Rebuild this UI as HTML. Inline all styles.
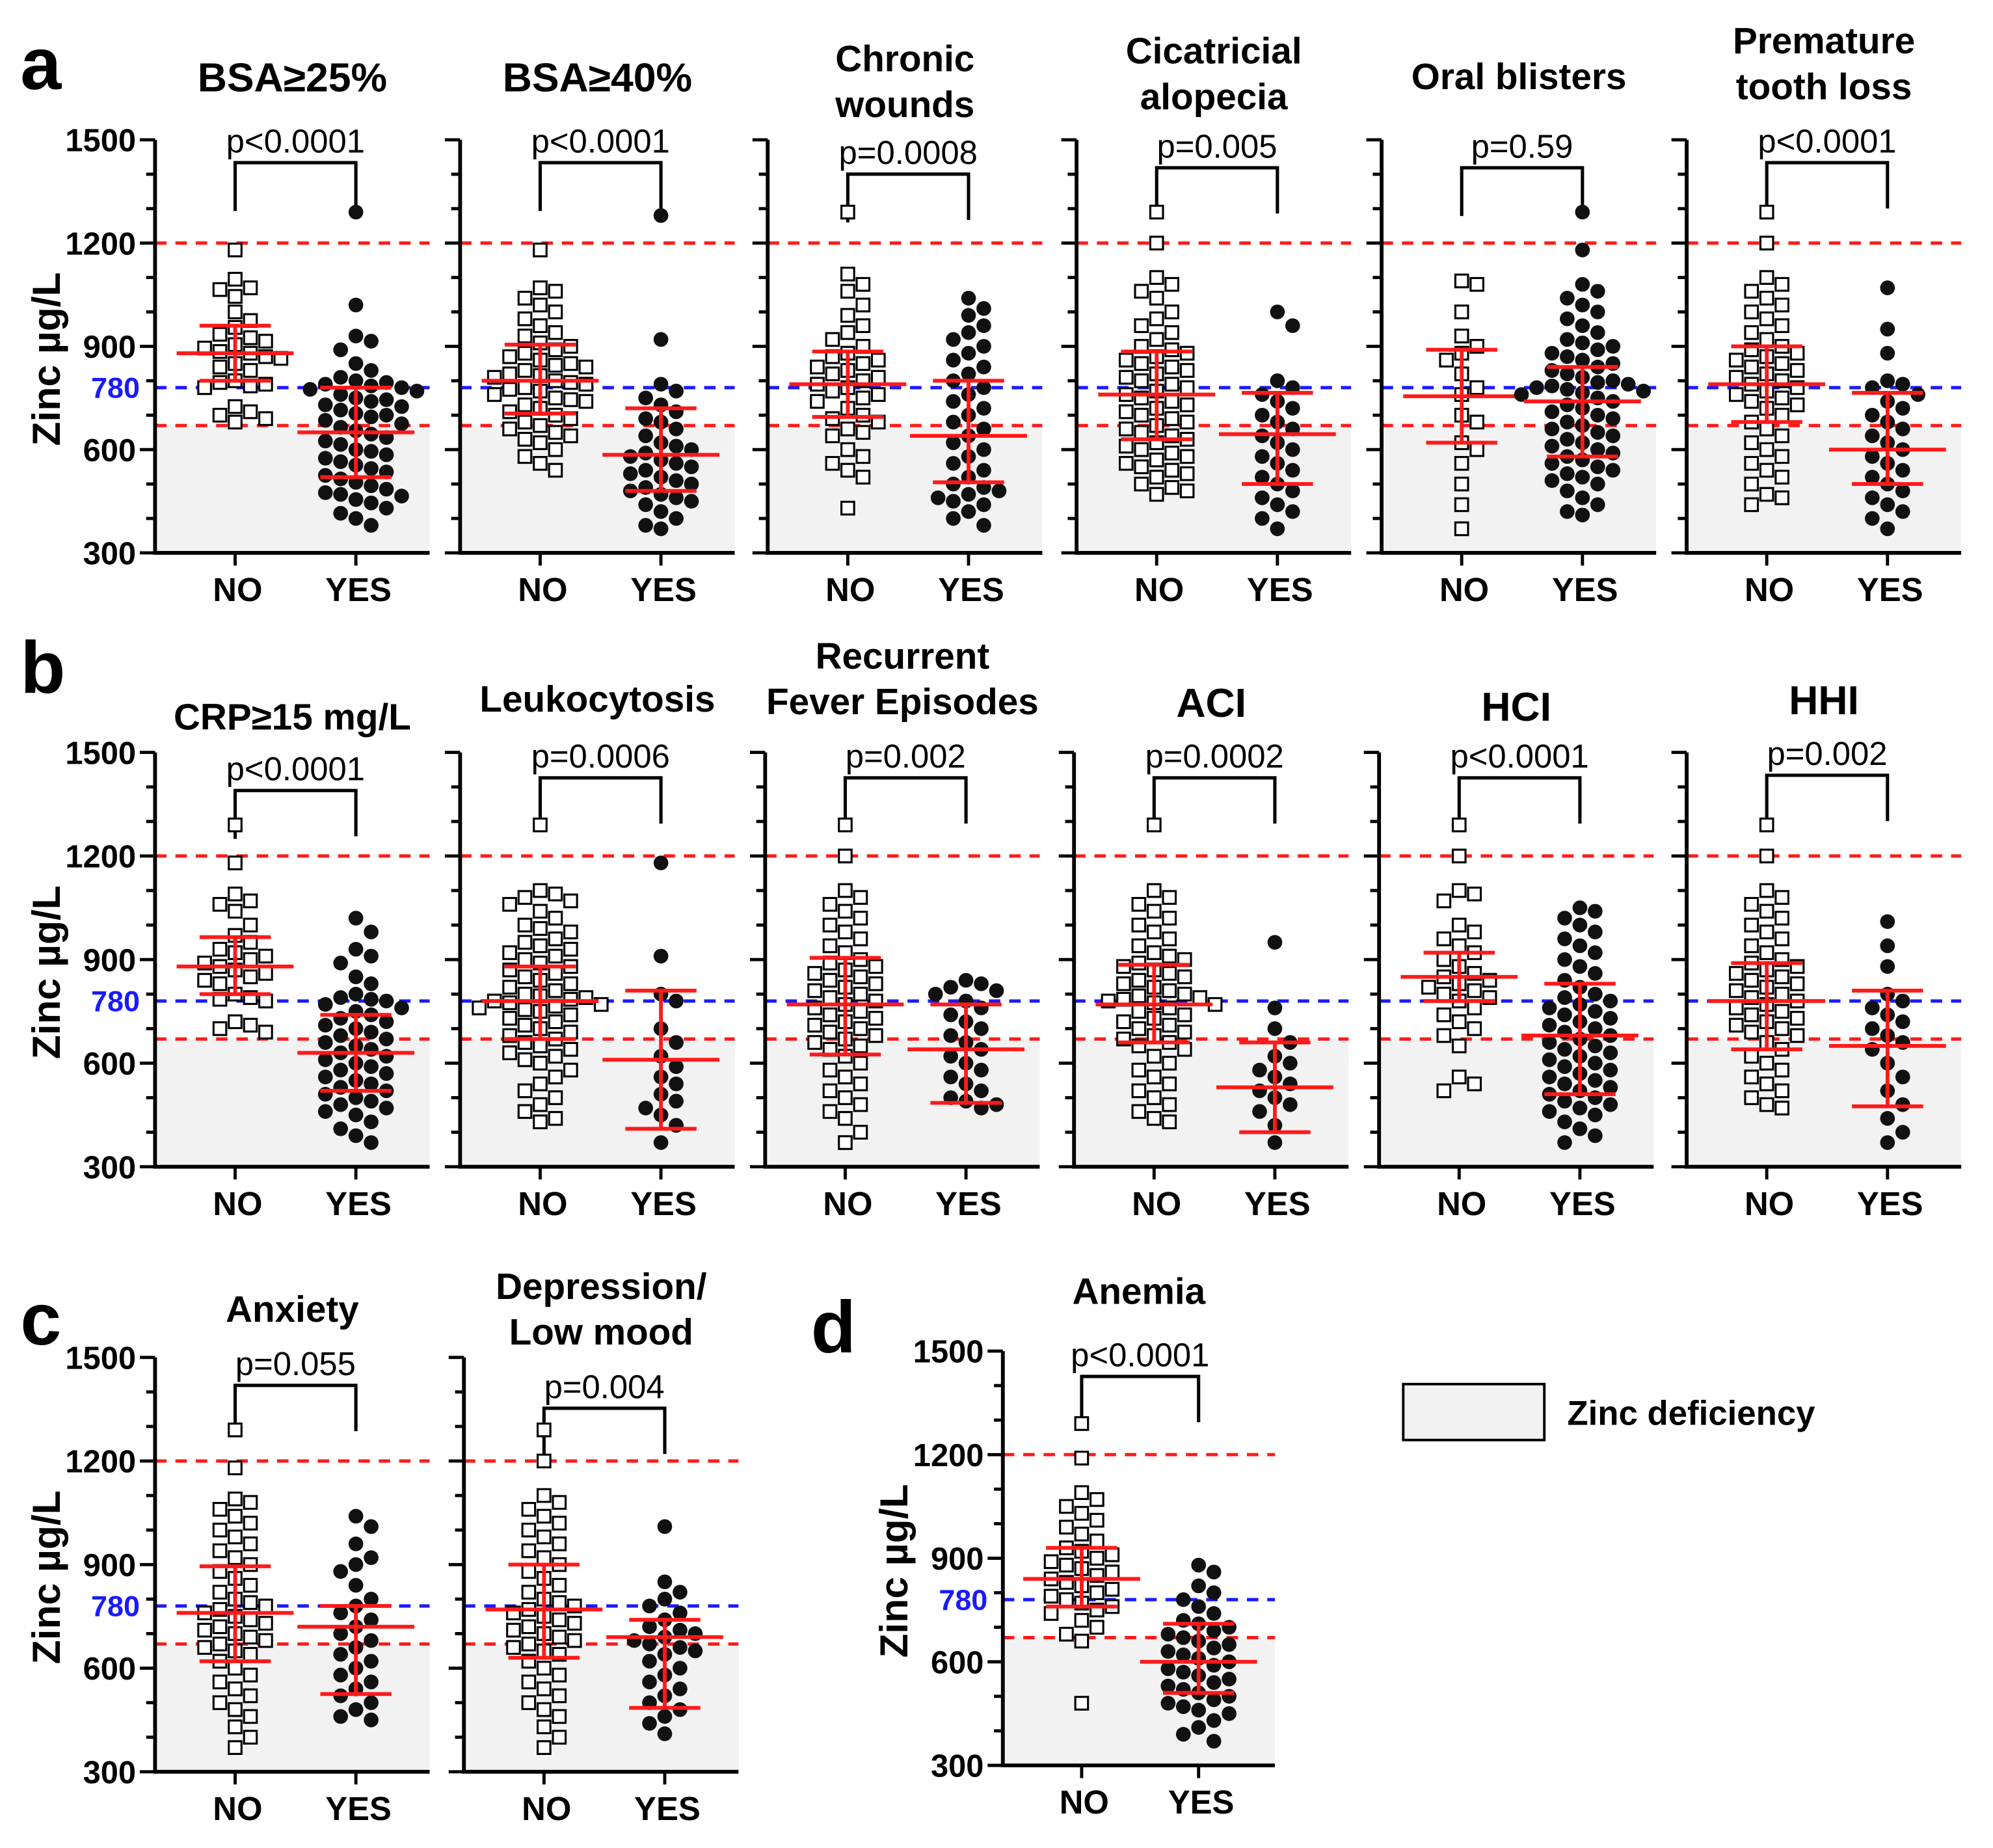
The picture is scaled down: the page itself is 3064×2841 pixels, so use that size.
<!DOCTYPE html>
<html><head><meta charset="utf-8"><style>
html,body{margin:0;padding:0;background:#fff}
svg{display:block}
text{font-family:"Liberation Sans",Arial,sans-serif}
</style></head><body>
<svg id="fig" width="3064" height="2841" viewBox="0 0 1568 1454" preserveAspectRatio="none" xmlns="http://www.w3.org/2000/svg"></svg>
<script>
// ---- data (Zinc µg/L) ----
const groupLabels = ["NO","YES"];
const yTicks = [300,600,900,1200,1500];
const refLines = [1200, 670];
const cutoff = [780];
const titles = [["BSA≥25%"],["BSA≥40%"],["Chronic","wounds"],["Cicatricial","alopecia"],["Oral blisters"],["Premature","tooth loss"],
 ["CRP≥15 mg/L"],["Leukocytosis"],["Recurrent","Fever Episodes"],["ACI"],["HCI"],["HHI"],["Anxiety"],["Depression/","Low mood"],["Anemia"]];
const pValues = ["p<0.0001","p<0.0001","p=0.0008","p=0.005","p=0.59","p<0.0001","p<0.0001","p=0.0006","p=0.002","p=0.0002","p<0.0001","p=0.002","p=0.055","p=0.004","p<0.0001"];
// mean and SD bar ends
const meanNo=[880,800,790,760,755,790,880,780,770,770,850,780,760,770,840];
const lowNo =[800,705,695,630,620,680,800,670,625,660,780,640,620,630,760];
const highNo=[960,905,885,885,890,900,965,880,905,885,920,890,895,900,930];
const meanYes=[650,585,640,645,740,600,630,610,640,530,680,650,720,690,600];
const lowYes =[520,480,505,500,580,500,520,410,485,400,510,475,525,485,510];
const highYes=[780,720,800,765,840,765,740,810,770,660,830,810,780,740,710];
const noA1=[1180,1095,1070,1065,1045,1000,975,955,935,925,915,905,895,885,880,870,865,850,840,830,800,795,790,785,780,725,710,700,690,680];
const yesA1=[1290,1020,930,915,890,850,830,810,800,795,790,785,780,775,770,760,750,745,740,730,725,715,705,700,695,685,675,665,655,645,635,625,615,600,595,585,575,565,555,545,535,525,515,505,495,485,475,470,465,455,445,430,415,400,380];
const noA2=[1180,1070,1060,1040,1020,1000,980,960,940,930,910,900,890,880,870,860,850,845,840,830,820,815,810,800,795,790,780,775,770,760,750,745,740,730,720,710,700,690,680,670,660,650,640,630,620,600,580,560,540];
const yesA2=[1280,920,790,770,750,730,710,690,680,660,640,620,610,600,590,580,570,560,550,540,530,520,510,500,490,480,470,460,450,440,420,400,380,370];
const noA3=[1290,1110,1080,1060,1020,990,960,940,920,900,880,870,860,850,840,830,820,810,800,790,780,770,760,750,740,720,700,690,680,660,650,640,600,580,560,540,520,430];
const yesA3=[1040,1010,990,960,940,920,900,880,860,840,820,800,780,760,740,720,700,680,660,640,620,600,580,560,540,520,500,490,480,470,460,450,440,420,400,380];
const noA4=[1290,1200,1100,1080,1060,1040,1000,980,960,940,920,900,890,880,870,860,850,840,830,820,810,800,790,780,770,760,750,740,730,720,710,700,690,680,670,660,650,640,630,620,610,600,590,580,570,560,550,540,530,520,500,490,480,470];
const yesA4=[1000,960,800,780,760,740,720,700,680,660,640,620,600,580,560,540,520,500,480,460,440,420,400,370];
const noA5=[1090,1080,1000,930,900,880,860,820,780,760,700,680,620,600,560,500,440,370];
const yesA5=[1290,1180,1080,1060,1040,1020,1000,980,960,940,920,910,900,890,880,870,860,850,840,830,820,810,800,795,790,785,780,775,770,765,760,750,740,730,720,710,700,690,680,670,660,650,640,630,620,610,600,590,580,570,560,550,540,530,520,510,500,480,460,440,420,410];
const noA6=[1290,1200,1100,1080,1060,1040,1020,1000,980,960,940,920,900,890,880,870,860,850,840,830,820,810,800,790,780,770,760,750,740,730,720,700,680,660,640,620,600,580,560,540,520,500,470,460,440];
const yesA6=[1070,950,880,800,790,780,760,740,720,700,680,660,640,620,600,580,560,540,520,500,480,460,440,420,400,370];
const noB1=[1290,1180,1090,1070,1060,1040,1000,970,950,930,920,910,900,890,880,870,860,850,840,830,800,790,785,780,720,710,700,690];
const yesB1=[1020,980,930,910,890,850,830,800,790,785,780,770,760,750,740,730,720,710,700,690,680,670,660,650,640,630,620,610,600,590,580,570,560,550,540,530,520,510,500,490,480,470,460,450,430,410,390,370];
const noB2=[1290,1100,1090,1080,1070,1060,1040,1020,1000,990,980,960,950,940,930,920,910,900,890,880,870,860,850,840,830,820,810,800,795,790,785,780,775,770,765,760,755,750,740,730,720,710,700,690,680,670,660,650,640,630,620,610,600,580,560,540,520,500,480,460,440,430];
const yesB2=[1180,910,800,780,700,660,620,590,560,540,510,490,470,450,420,370];
const noB3=[1290,1200,1100,1080,1060,1040,1020,1000,980,960,940,920,900,890,880,870,860,850,840,830,820,810,800,790,780,770,760,750,740,730,720,710,700,690,680,670,660,650,640,620,600,580,560,540,520,500,480,460,440,400,370];
const yesB3=[840,830,820,810,800,780,760,740,720,700,680,660,640,620,600,580,560,540,520,500,490,480,470];
const noB4=[1290,1100,1080,1060,1040,1020,1000,980,960,940,920,910,900,890,880,870,860,850,840,830,820,810,800,795,790,785,780,775,770,760,750,740,730,720,710,700,690,680,670,660,650,640,620,600,580,560,540,520,500,480,460,440,430];
const yesB4=[950,760,700,660,620,600,580,560,540,520,500,480,460,420,370];
const noB5=[1290,1200,1100,1090,1070,1000,980,960,940,920,900,880,860,850,840,830,820,810,800,790,780,760,740,720,700,680,650,560,540,520];
const yesB5=[1050,1040,1020,1000,980,960,940,920,900,880,860,840,820,800,790,780,770,760,750,740,730,720,710,700,690,680,670,660,650,640,630,620,610,600,590,580,570,560,550,540,530,520,510,500,490,480,470,460,450,430,410,390,370];
const noB6=[1290,1200,1100,1080,1060,1040,1020,1000,980,960,940,920,900,890,880,870,860,850,840,830,820,810,800,790,780,770,760,750,740,730,720,710,700,690,680,660,640,620,600,580,560,540,520,500,480,470];
const yesB6=[1010,940,880,800,780,760,740,720,700,680,660,640,600,560,520,480,440,400,370];
const noC1=[1290,1180,1090,1080,1060,1040,1020,1000,980,960,940,920,900,880,860,840,820,800,790,780,770,760,750,740,730,720,710,700,690,680,670,660,650,640,620,600,580,560,540,520,500,480,460,430,400,370];
const yesC1=[1040,1010,960,920,900,880,840,800,780,760,740,720,700,680,660,640,620,600,580,560,540,520,500,480,460,450];
const noC2=[1290,1200,1100,1080,1060,1040,1020,1000,980,960,940,920,900,880,860,840,820,800,790,780,770,760,750,740,730,720,710,700,690,680,670,660,650,640,620,600,580,560,540,520,500,480,460,430,400,370];
const yesC2=[1010,850,820,800,780,760,740,720,710,700,690,680,670,660,650,640,620,600,580,560,540,520,500,480,460,440,410];
const noD=[1290,1190,1090,1070,1050,1030,1010,990,970,950,930,920,910,900,890,880,870,860,850,840,830,820,810,800,790,780,770,760,750,740,720,700,680,660,480];
const yesD=[880,860,820,800,780,760,740,720,710,700,690,680,670,660,650,640,630,620,610,600,590,580,570,560,550,540,530,520,510,500,490,480,470,460,450,430,410,390,370];
const noSets=[noA1,noA2,noA3,noA4,noA5,noA6,noB1,noB2,noB3,noB4,noB5,noB6,noC1,noC2,noD];
const yesSets=[yesA1,yesA2,yesA3,yesA4,yesA5,yesA6,yesB1,yesB2,yesB3,yesB4,yesB5,yesB6,yesC1,yesC2,yesD];

// ---- layout (display units) ----
const rows={a:{top:110,bot:435},b:{top:592,bot:918},c:{top:1068,bot:1394},d:{top:1063,bot:1389}};
const layout=[
 {r:'a',x:122,t:72,b:128,lab:true},{r:'a',x:362,t:72,b:128},{r:'a',x:604,t:56,b:137},{r:'a',x:847,t:50,b:132},{r:'a',x:1087,t:70,b:132},{r:'a',x:1327,t:42,b:128},
 {r:'b',x:122,t:574,b:622,lab:true},{r:'b',x:362,t:560,b:612},{r:'b',x:602,t:526,b:612},{r:'b',x:845,t:564,b:612},{r:'b',x:1085,t:567,b:612},{r:'b',x:1327,t:562,b:610},
 {r:'c',x:122,t:1040,b:1090,lab:true},{r:'c',x:365,t:1022,b:1108},
 {r:'d',x:789,t:1026,b:1083,lab:true,w:214,no:62,yes:154}
];
const svg=document.getElementById('fig');
const NS='http://www.w3.org/2000/svg';
function mk(tag,attrs,parent){const e=document.createElementNS(NS,tag);for(const k in attrs)e.setAttribute(k,attrs[k]);(parent||svg).appendChild(e);return e;}
function txt(s,attrs,parent){const e=mk('text',attrs,parent);e.textContent=s;return e;}

layout.forEach((L,i)=>{
  const R=rows[L.r];
  const w=L.w||216, xNo=L.x+(L.no||63), xYes=L.x+(L.yes||158);
  const y=v=>R.bot-(v-300)/1200*(R.bot-R.top);
  const g=mk('g',{});
  
  
  const ar=mk('rect',{x:L.x,y:y(refLines[1]),width:w,height:y(300)-y(refLines[1]),fill:'#f2f2f2'},g);
  
  
  refLines.forEach(v=>{const l=mk('line',{x1:L.x,x2:L.x+w,y1:y(v),y2:y(v),stroke:'#ff1a1a','stroke-width':2.6,'stroke-dasharray':'9 7'},g);
    });
  cutoff.forEach(v=>{const l=mk('line',{x1:L.x,x2:L.x+w,y1:y(v),y2:y(v),stroke:'#1a1aff','stroke-width':2.6,'stroke-dasharray':'9 7'},g);
    });
  const ya=mk('line',{x1:L.x,x2:L.x,y1:R.top,y2:R.bot,stroke:'#000','stroke-width':3},g);
  
  const xa=mk('line',{x1:L.x-1.5,x2:L.x+w,y1:R.bot,y2:R.bot,stroke:'#000','stroke-width':3},g);
  
  for(let v=300;v<=1500;v+=100){const maj=yTicks.includes(v);mk('line',{x1:L.x-(maj?12:7),x2:L.x,y1:y(v),y2:y(v),stroke:'#000','stroke-width':2.5},g);}
  if(L.lab){
    yTicks.forEach(v=>{const t=txt(String(v),{x:L.x-15,y:y(v)+9,'text-anchor':'end','font-size':25,'font-weight':'bold'},g);
      });
    const c=txt(String(cutoff[0]),{x:L.x-12,y:y(cutoff[0])+8,'text-anchor':'end','font-size':23,'font-weight':'bold',fill:'#1a1aff'},g);
    
    const cy=(R.top+R.bot)/2+10;
    const yt=txt('Zinc µg/L',{x:L.x-75,y:cy,'text-anchor':'middle','font-size':31,'font-weight':'bold',transform:`rotate(-90 ${L.x-75} ${cy})`},g);
    
  }
  [xNo,xYes].forEach((xx,k)=>{mk('line',{x1:xx,x2:xx,y1:R.bot,y2:R.bot+10,stroke:'#000','stroke-width':2.5},g);
    const t=txt(groupLabels[k],{x:xx+2,y:R.bot+38,'text-anchor':'middle','font-size':26,'font-weight':'bold'},g);
    });
  titles[i].forEach((s,j)=>{const t=txt(s,{x:L.x+w/2,y:L.t+j*36,'text-anchor':'middle','font-size':(i<2||i===9||i===10||i===11)?32:29,'font-weight':'bold'},g);
    });
  const br=mk('path',{d:`M${xNo} ${L.b+38}V${L.b}H${xYes}V${L.b+36}`,fill:'none',stroke:'#000','stroke-width':2.6},g);
  
  const pt=txt(pValues[i],{x:(xNo+xYes)/2,y:L.b-8,'text-anchor':'middle','font-size':26},g);
  
  [noSets[i],yesSets[i]].forEach((arr,k)=>{
    const cx=k?xYes:xNo;const placed=[];
    const sorted=arr.slice().sort((a,b)=>b-a);
    sorted.forEach(v=>{
      const py=y(v);let off=0;
      for(let n=0;n<40;n++){const o=(n%2?1:-1)*Math.ceil(n/2)*12;
        if(placed.every(p=>Math.hypot(p[0]-(cx+o),p[1]-py)>=11.5)){off=o;break;}}
      placed.push([cx+off,py]);
      let m;
      if(k===0){m=mk('rect',{x:cx+off-5,y:py-5,width:10,height:10,fill:'#fff',stroke:'#000','stroke-width':1.6},g);}
      else{m=mk('circle',{cx:cx+off,cy:py,r:5.8,fill:'#111'},g);}
      
      
    });
    const mean=k?meanYes[i]:meanNo[i], lo=k?lowYes[i]:lowNo[i], hi=k?highYes[i]:highNo[i];
    const eb=mk('path',{d:`M${cx} ${y(hi)}V${y(lo)}M${cx-28} ${y(hi)}H${cx+28}M${cx-28} ${y(lo)}H${cx+28}M${cx-46} ${y(mean)}H${cx+46}`,fill:'none',stroke:'#ff1a1a','stroke-width':3},g);
    
  });
});
[['a',16,70],['b',16,545],['c',16,1058],['d',638,1064]].forEach(p=>{
  const t=txt(p[0],{x:p[1],y:p[2],'font-size':58,'font-weight':'bold'});
  });
const lg=mk('rect',{x:1104,y:1089,width:111,height:44,fill:'#f2f2f2',stroke:'#000','stroke-width':2});

const lt=txt('Zinc deficiency',{x:1233,y:1121,'font-size':27,'font-weight':'bold'});

</script>
</body></html>
